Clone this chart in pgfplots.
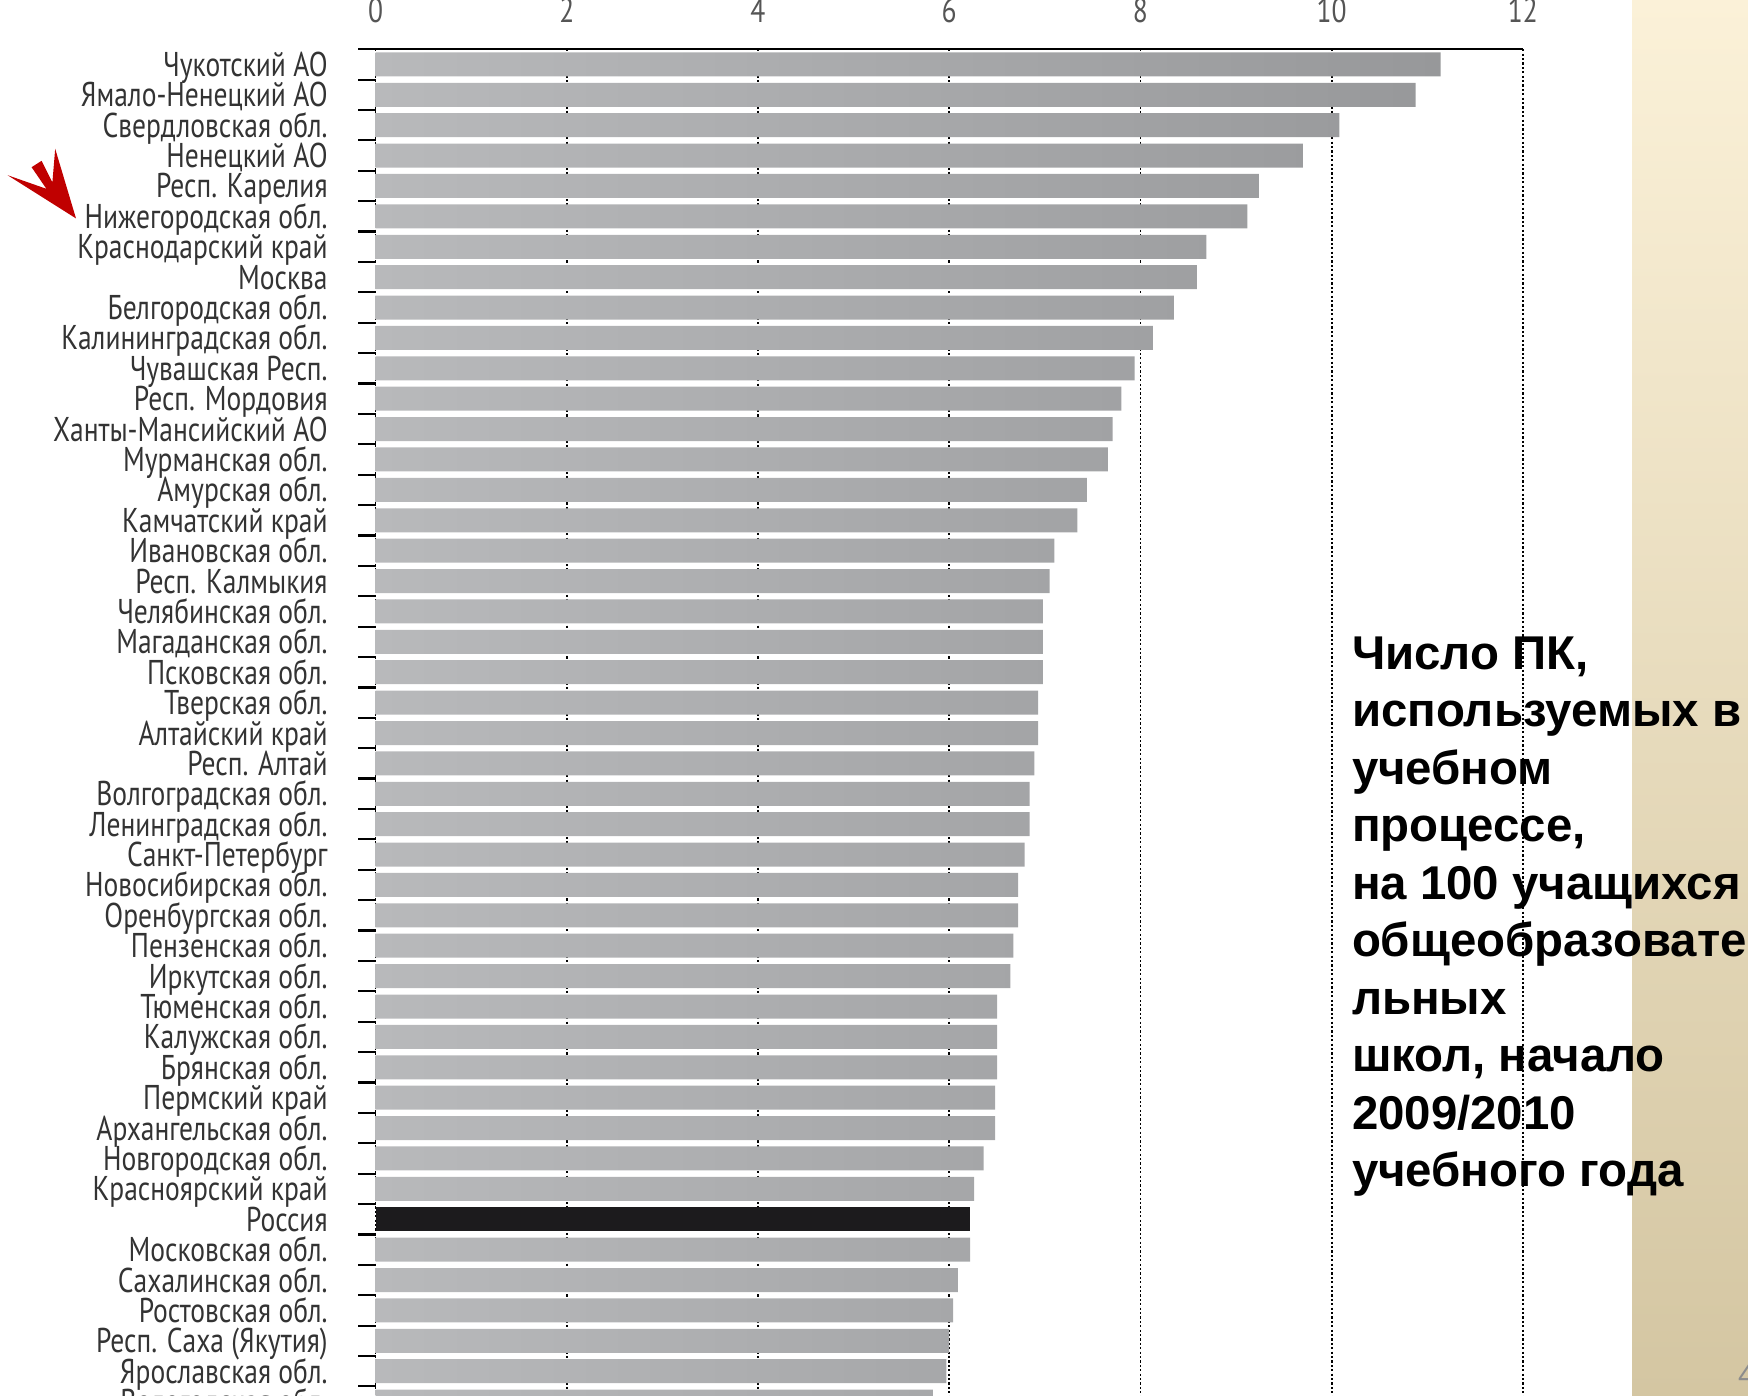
\documentclass[border=0pt]{standalone}
\usepackage{fontspec}
\usepackage{pgfplots}
\usepackage{pgfplotstable}
\pgfplotsset{compat=1.18}
\setmainfont{Liberation Sans}
\newfontfamily\lblfont[FakeStretch=0.80]{PT Sans}
\newfontfamily\ttlfont{Liberation Sans}
\definecolor{lblgray}{HTML}{333333}
\definecolor{ticgray}{HTML}{555555}
\definecolor{barL}{HTML}{B8B9BB}
\definecolor{barR}{HTML}{97989A}
\definecolor{rusbar}{HTML}{1C1B1D}
\definecolor{beigeT}{HTML}{FBF1D8}
\definecolor{beigeB}{HTML}{D4C6A2}
\definecolor{arrowred}{HTML}{C00000}
\definecolor{pagegray}{HTML}{8C8C8C}

% PCs per 100 pupils, rank r (1 = top), value v
\pgfplotstableread{
r v
1 11.14
2 10.88
3 10.08
4 9.70
5 9.24
6 9.12
7 8.69
8 8.59
9 8.35
10 8.13
11 7.94
12 7.80
13 7.71
14 7.66
15 7.44
16 7.34
17 7.10
18 7.05
19 6.98
20 6.98
21 6.98
22 6.93
23 6.93
24 6.89
25 6.84
26 6.84
27 6.79
28 6.72
29 6.72
30 6.67
31 6.64
32 6.50
33 6.50
34 6.50
35 6.48
36 6.48
37 6.36
38 6.26
40 6.22
41 6.09
42 6.04
43 6.00
44 5.97
45 5.83
}\regdata

\begin{document}
\begin{tikzpicture}
\path[use as bounding box] (0,0) rectangle (437pt,-348.75pt);
\clip (0,0) rectangle (437pt,-348.75pt);
\shade[top color=beigeT, bottom color=beigeB] (408pt,0pt) rectangle (437pt,-348.75pt);
\begin{axis}[
  at={(93.9pt,-12.3pt)}, anchor=north west,
  x=23.9pt, y=7.5975pt, y dir=reverse,
  xmin=0, xmax=12, ymin=0.5, ymax=46.5,
  clip=false,
  axis line style={draw=none},
  /pgf/number format/assume math mode=true,
  xtick={0,2,...,12},
  xtick pos=right, xticklabel pos=right,
  xmajorgrids,
  major grid style={black, line width=0.45pt, dash pattern=on 0.55pt off 0.55pt},
  ytick={1,...,45},
  yticklabels={Чукотский АО,Ямало-Ненецкий АО,Свердловская обл.,Ненецкий АО,Респ. Карелия,Нижегородская обл.,Краснодарский край,Москва,Белгородская обл.,Калининградская обл.,Чувашская Респ.,Респ. Мордовия,Ханты-Мансийский АО,Мурманская обл.,Амурская обл.,Камчатский край,Ивановская обл.,Респ. Калмыкия,Челябинская обл.,Магаданская обл.,Псковская обл.,Тверская обл.,Алтайский край,Респ. Алтай,Волгоградская обл.,Ленинградская обл.,Санкт-Петербург,Новосибирская обл.,Оренбургская обл.,Пензенская обл.,Иркутская обл.,Тюменская обл.,Калужская обл.,Брянская обл.,Пермский край,Архангельская обл.,Новгородская обл.,Красноярский край,Россия,Московская обл.,Сахалинская обл.,Ростовская обл.,Респ. Саха (Якутия),Ярославская обл.,Вологодская обл.},
  ytick pos=left, yticklabel pos=left,
  minor ytick={0.5,1.5,...,45.5},
  tick align=outside,
  major tick length=0pt,
  minor tick length=4.3pt,
  minor tick style={black, line width=0.55pt},
  xticklabel style={font=\lblfont\fontsize{8.6}{9}\selectfont, text=ticgray, inner sep=0pt, anchor=base, yshift=6.8pt},
  yticklabel style={font=\lblfont\fontsize{8.6}{9}\selectfont, text=lblgray, inner sep=0pt, anchor=base east, xshift=-11.8pt, yshift=-3.0pt},
]
\addplot[xbar, bar shift=0pt, bar width=6pt, draw=none, left color=barL, right color=barR]
  table[x=v, y=r] {\regdata};
\addplot[xbar, bar shift=0pt, bar width=6pt, draw=none, fill=rusbar]
  coordinates {(6.22,39)};
\draw[black, line width=0.6pt] (axis cs:-0.175,0.5) -- (axis cs:12,0.5);
\end{axis}

% red pointer next to the Nizhny Novgorod label
\fill[arrowred] (19pt,-54.6pt) -- (13.8pt,-37.2pt) -- (13.1pt,-45.6pt) -- (10.4pt,-40.2pt) -- (7.9pt,-41.8pt) -- (11.6pt,-47.2pt) -- (1.9pt,-43.8pt) -- cycle;

\begin{scope}[every node/.style={anchor=base west, inner sep=0pt, font=\ttlfont\bfseries\fontsize{11.85}{14}\selectfont}]
\node at (337.8pt,-167.3pt) {Число ПК,};
\node at (337.8pt,-181.675pt) {используемых в};
\node at (337.8pt,-196.05pt) {учебном};
\node at (337.8pt,-210.425pt) {процессе,};
\node at (337.8pt,-224.8pt) {на 100 учащихся};
\node at (337.8pt,-239.175pt) {общеобразовате};
\node at (337.8pt,-253.55pt) {льных};
\node at (337.8pt,-267.925pt) {школ, начало};
\node at (337.8pt,-282.3pt) {2009/2010};
\node at (337.8pt,-296.675pt) {учебного года};
\end{scope}
\node[anchor=base west, inner sep=0pt, font=\ttlfont\fontsize{7.7}{9}\selectfont, text=pagegray] at (434.3pt,-346.3pt) {4};
\end{tikzpicture}
\end{document}
